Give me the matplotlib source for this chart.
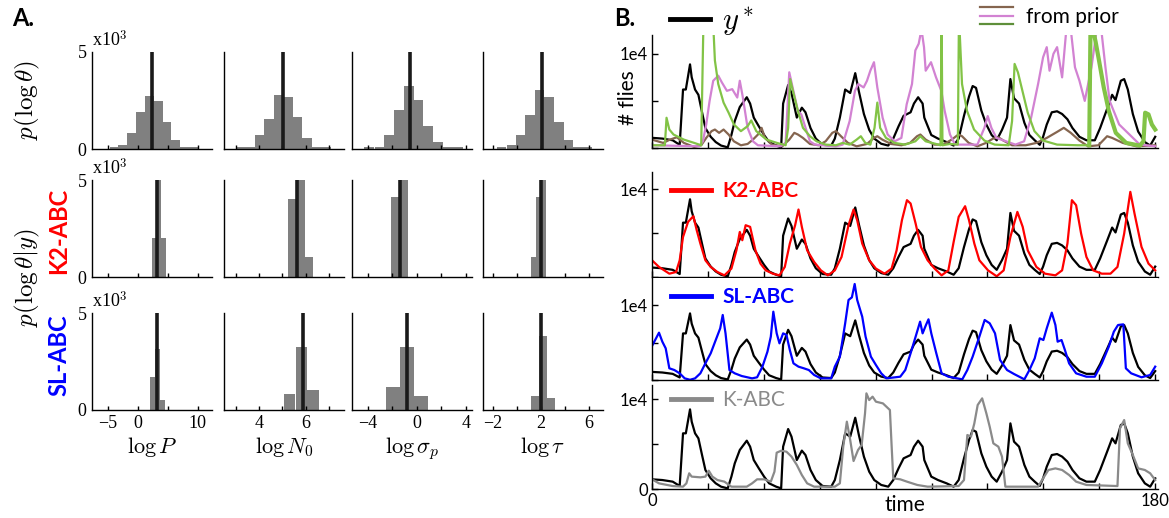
import matplotlib
matplotlib.use("Agg")
import matplotlib.pyplot as plt
from matplotlib.legend_handler import HandlerBase
from matplotlib.lines import Line2D

W, H = 1169, 518

plt.rcParams["font.family"] = ["Lato", "DejaVu Sans"]
plt.rcParams["mathtext.fontset"] = "cm"
plt.rcParams["axes.linewidth"] = 1.0

# ---------------- panel A: histograms of log parameters ----------------
param_names = [r"$\log P$", r"$\log N_0$", r"$\log \sigma_p$", r"$\log \tau$"]

prior_centers = [
    [-4.0, -2.6, -1.05, 0.47, 1.95, 3.4, 4.85, 6.3, 7.8, 9.3],
    [3.22, 3.62, 4.03, 4.43, 4.84, 5.25, 5.65, 6.06, 6.47, 6.87],
    [-3.9, -3.05, -2.26, -1.47, -0.67, 0.13, 0.93, 1.73, 2.53, 3.33],
    [-1.25, -0.42, 0.35, 1.12, 1.92, 2.72, 3.52, 4.31, 5.1, 5.9],
]
prior_counts = [
    [100, 200, 820, 1920, 2730, 2500, 1400, 470, 100, 100],
    [100, 100, 700, 1570, 2760, 2660, 1660, 580, 100, 100],
    [100, 100, 720, 2030, 3230, 2530, 1190, 350, 100, 100],
    [100, 200, 720, 1770, 3020, 2670, 1400, 470, 100, 100],
]
prior_binwidth = [1.46, 0.405, 0.8, 0.79]
prior_mark = [2.33, 5.04, -0.6, 2.08]

k2_centers = [[2.68, 3.49, 4.29], [5.43, 5.79, 6.15], [-1.77, -1.05], [1.37, 1.79, 2.22]]
k2_counts = [[2000, 5050, 2000], [4030, 5000, 1040], [4110, 5000], [1040, 4110, 5000]]
k2_binwidth = [0.8, 0.36, 0.72, 0.42]
k2_mark = [3.12, 5.65, -1.34, 2.0]

sl_centers = [[2.37, 3.22, 4.07], [5.31, 5.82, 6.31], [-1.93, -0.79, 0.34], [1.55, 2.2, 2.85]]
sl_counts = [[1680, 3130, 500], [840, 3250, 1050], [1190, 3250, 700], [700, 3800, 600]]
sl_binwidth = [0.85, 0.5, 1.13, 0.65]
sl_mark = [3.12, 5.87, -0.82, 2.0]

param_xlim = [(-7.7, 12.4), (2.5, 7.65), (-5.3, 4.5), (-2.8, 7.2)]
param_ticks = [[-5, 0, 5, 10], [3, 4, 5, 6, 7], [-4, -2, 0, 2, 4], [-2, 0, 2, 4, 6]]
param_ticklabels = [
    ["\u22125", "0", "", "10"],
    ["", "4", "", "6", ""],
    ["\u22124", "", "0", "", "4"],
    ["\u22122", "", "2", "", "6"],
]

# ---------------- panel B: time series (# flies) ----------------
ystar_t = [0, 3.7, 7.4, 9.9, 11.1, 12.1, 13.6, 14.2, 15.4, 16.6, 17.9, 19.1, 21.0, 22.8, 24.7,
           27.1, 28.4, 29.6, 31.4, 33.9, 35.1, 36.4, 38.2, 40.1, 41.9, 44.4, 46.2, 46.9, 48.7,
           49.9, 51.8, 53.6, 54.9, 56.7, 58.6, 61.0, 64.1, 65.4, 67.2, 69.1, 70.9, 72.7, 74.0,
           75.8, 77.7, 79.5, 82.0, 84.5, 86.3, 88.2, 90.0, 92.5, 93.7, 95.2, 96.8, 97.4, 99.9,
           102.3, 105.4, 107.9, 109.7, 111.6, 113.4, 114.7, 115.9, 117.8, 119.6, 121.5, 123.3,
           125.2, 127.0, 128.2, 129.5, 131.3, 133.2, 135.0, 136.9, 138.7, 139.9, 141.2, 143.0,
           144.9, 146.7, 148.6, 150.4, 152.9, 155.4, 158.4, 160.3, 162.8, 164.6, 165.8, 167.7,
           168.9, 170.2, 172.0, 173.9, 176.3, 178.2, 180.0]
ystar_v = [1080, 1000, 820, 340, 6210, 6210, 8880, 7510, 6210, 5650, 3790, 2120, 1190, 630, 260,
           70, 1380, 2860, 4350, 5390, 4720, 3230, 2310, 1380, 630, 260, 70, 4720, 6690,
           5840, 3230, 4280, 3790, 2120, 1000, 340, 260, 1000, 3230, 6210, 5840, 7950, 6020,
           3610, 1930, 1000, 450, 260, 1000, 2310, 3420, 3790, 4720, 5390, 4720, 3230, 1380,
           1000, 630, 260, 1000, 3420, 5460, 6580, 6390, 3980, 2490, 1380, 820,
           1930, 3230, 7320, 5280, 4720, 2680, 1380, 820, 340, 1190, 2490, 3790,
           3900, 3610, 3050, 2120, 1190, 820, 820, 2120, 4160, 5650, 5090, 7140,
           7320, 6210, 3610, 1750, 630, 260, 1190]

k2_t = [0, 2.5, 6.2, 8.6, 9.9, 11.1, 12.9, 14.8, 16.0, 17.3, 19.1, 21.0, 23.4, 25.9, 28.4, 30.2,
        31.4, 32.3, 33.5, 35.1, 37.0, 38.8, 40.7, 43.2, 45.6, 47.5, 49.3, 51.2, 52.4, 53.6, 55.5,
        58.0, 60.4, 62.9, 65.4, 67.8, 70.3, 72.1, 73.4, 75.2, 77.7, 80.1, 83.2, 85.7, 87.5, 89.4,
        91.2, 92.5, 94.3, 96.2, 98.6, 101.1, 103.6, 106.0, 107.9, 109.7, 112.0, 113.4, 115.3,
        117.1, 120.2, 123.3, 125.8, 128.2, 130.7, 132.6, 134.4, 137.5, 140.6, 144.3, 146.7,
        148.6, 150.2, 151.7, 153.5, 155.4, 157.8, 160.9, 164.0, 166.5, 168.9, 171.1, 172.6,
        175.1, 177.6, 180.0]
k2_v = [1910, 1150, 380, 570, 1910, 4580, 6300, 6950, 5340, 3820, 1910, 1150, 570, 190, 960, 3050,
        5150, 4200, 5920, 5730, 3050, 1530, 760, 380, 190, 1150, 3820, 5920, 7710, 5730, 3050,
        1720, 760, 190, 760, 2290, 5920, 7710, 6490, 3820, 1910, 960, 380, 960, 3050, 6490,
        8780, 8400, 6110, 3440, 1910, 960, 190, 760, 4010, 6870, 8090, 6490, 3820,
        1910, 760, 80, 760, 4580, 7440, 5730, 3050, 1150, 380, 190, 760,
        3820, 8780, 8210, 4960, 2290, 760, 380, 380, 1150, 4960, 9730, 7250,
        3440, 1530, 760]

sl_t = [0, 2.5, 3.7, 4.9, 6.2, 8.0, 9.9, 11.7, 13.6, 15.4, 17.3, 19.1, 21.0, 22.8, 24.4, 25.3,
        26.3, 27.7, 29.6, 32.1, 35.8, 37.6, 39.5, 41.3, 42.5, 43.4, 44.6, 45.6, 46.9, 48.1, 49.3,
        50.6, 52.4, 54.3, 56.1, 58.0, 60.4, 64.1, 65.4, 67.2, 69.1, 70.3, 71.5, 72.5, 73.4, 75.2,
        76.4, 78.3, 80.1, 82.0, 83.8, 88.8, 90.6, 92.5, 94.3, 95.9, 96.8, 98.0, 98.9, 99.9, 101.7,
        103.6, 106.0, 111.0, 112.8, 114.7, 117.1, 119.0, 120.8, 122.7, 124.5, 127.0, 129.5,
        133.2, 135.0, 136.9, 138.7, 140.0, 141.2, 143.0, 144.3, 145.1, 146.5, 147.7, 149.2,
        151.7, 155.4, 158.4, 160.9, 163.4, 165.2, 166.7, 168.6, 169.5, 171.4, 175.1, 178.2, 180.0]
sl_v = [4530, 6310, 5110, 4220, 1560, 1330, 890, 220, 30, 220, 890, 2220, 3560, 5330, 6890, 8670,
        6220, 1330, 890, 530, 220, 360, 1780, 3780, 5780, 9110, 6220, 4890, 6220, 6000, 4000,
        2220, 1780, 1560, 1330, 670, 220, 220, 1780, 3110, 7560, 10670, 11020, 12800, 10670, 8440,
        5780, 3110, 2000, 890, 220, 440, 1330, 3560, 5780, 7780, 6220, 7330, 8090, 6220, 3560,
        890, 440, 90, 1330, 3110, 5780, 8000, 7560, 6220, 2670, 1330, 800,
        90, 1330, 2890, 5560, 5330, 6890, 8980, 7330, 5110, 5330, 4000, 2220,
        890, 440, 440, 2220, 4440, 6440, 7330, 7420, 1560, 890, 360, 670, 1780]

kabc_t = [0, 2.5, 7.4, 11.1, 12.3, 13.3, 14.2, 17.3, 19.1, 20.3, 21.6, 23.4, 25.9, 28.4, 33.9,
          35.8, 37.6, 40.1, 42.5, 43.8, 44.6, 46.2, 48.1, 49.9, 51.8, 53.6, 55.5, 58.0, 65.4,
          67.2, 68.4, 69.7, 70.9, 72.1, 73.7, 75.0, 76.2, 76.7, 77.7, 78.9, 80.1, 82.6, 85.1,
          85.7, 86.3, 88.8, 91.2, 94.9, 98.6, 109.7, 111.6, 112.8, 114.1, 115.3, 116.5, 118.1,
          119.6, 120.8, 122.1, 123.9, 125.2, 126.4, 138.1, 139.9, 141.8, 144.3, 146.7, 149.2,
          151.7, 155.4, 166.5, 167.4, 168.9, 170.2, 172.0, 173.9, 176.3, 178.2, 180.0]
kabc_v = [1080, 630, 330, 260, 630, 1750, 1380, 1300, 1380, 2040, 1380, 1000, 820, 260, 260,
          630, 1080, 1080, 820, 1930, 4050, 4270, 4160, 3610, 2680, 1560, 630, 260, 260,
          630, 4720, 7510, 5460, 3120, 4350, 4910, 8440, 10670, 9920, 10300, 9740, 9550, 8810,
          4910, 1190, 1080, 820, 450, 260, 330, 1000, 6020, 5840, 7320, 9370, 10110,
          8440, 6950, 5090, 4720, 3610, 260, 260, 1190, 2120, 2300, 2120, 1560,
          820, 450, 330, 6770, 7690, 5090, 3790, 2300, 2120, 1750, 1000]

prior_brown_t = [0, 4.0, 6.4, 8.9, 11.4, 15.1, 17.6, 19.4, 21.3, 22.5, 24.0, 25.6, 27.4, 29.3,
                 31.8, 34.2, 36.1, 37.9, 39.2, 40.4, 42.9, 46.6, 49.1, 50.9, 52.2, 54.0, 56.5,
                 59.6, 62.1, 64.5, 65.8, 67.6, 70.1, 73.2, 76.9, 79.4, 80.6, 82.4, 85.5, 89.2,
                 92.3, 94.8, 96.0, 97.9, 101.0, 104.1, 107.2, 109.6, 110.9, 113.3, 116.4, 119.5,
                 122.0, 123.9, 125.7, 128.8, 133.7, 137.5, 141.2, 144.9, 147.3, 149.8, 152.9,
                 156.0, 159.7, 162.8, 164.6, 168.4, 173.3, 180.0]
prior_brown_v = [890, 540, 890, 1140, 540, 110, 290, 1070, 1790, 1960, 1610, 1960, 1430, 710,
                 290, 430, 890, 1430, 2140, 1070, 360, 180, 890, 1610, 1430, 1070, 430,
                 290, 710, 1610, 1790, 1250, 540, 180, 430, 1070, 1250, 890, 430, 290,
                 540, 1250, 1430, 890, 360, 360, 890, 1430, 1250, 540, 180, 540,
                 1000, 1140, 790, 290, 290, 540, 1070, 1710, 2140, 1610, 790,
                 180, 290, 1250, 1070, 540, 180, 290]

prior_pink_t = [0, 16.9, 18.2, 19.4, 20.6, 21.9, 23.7, 25.0, 26.8, 28.7, 30.5, 31.4, 32.4, 34.2,
                36.1, 37.9, 46.0, 47.8, 49.1, 50.3, 52.2, 53.4, 55.3, 56.5, 58.3, 65.8, 68.2,
                70.7, 72.6, 73.8, 75.7, 76.9, 78.1, 79.4, 80.6, 82.5, 84.3, 86.8, 89.2, 91.1,
                93.0, 94.2, 95.4, 96.4, 97.3, 97.9, 99.8, 101.6, 103.5, 104.7, 106.6, 108.4,
                116.4, 118.9, 120.1, 121.4, 123.2, 130.0, 133.1, 135.6, 138.1, 139.9, 141.2,
                142.2, 143.6, 144.9, 146.7, 148.3, 149.8, 151.3, 152.9, 154.8, 157.2, 159.1,
                160.7, 162.2, 163.7, 167.1, 170.8, 174.5, 180.0]
prior_pink_v = [290, 180, 710, 2500, 5000, 7140, 7680, 6960, 6070, 6250, 5360, 7140, 5540, 2140,
                710, 290, 180, 540, 8040, 6430, 3930, 3570, 1790, 710, 360, 180, 360,
                2860, 6070, 6790, 6430, 7140, 8210, 9110, 6430, 3210, 1430, 710, 1070, 4640,
                6790, 10360, 11070, 12600, 10710, 8210, 9110, 7500, 6070, 3930, 1430, 360,
                360, 2140, 3390, 2140, 1070, 360, 710, 3210, 6790, 9640, 10710,
                8210, 10000, 10710, 7500, 12900, 12600, 8570, 7140, 5000, 8570, 12600,
                12600, 8570, 5000, 2500, 1430, 360, 180]

prior_green_t = [0, 4.6, 5.2, 6.2, 7.7, 11.4, 15.1, 17.6, 18.5, 22.0, 22.5, 23.7, 25.6, 27.4,
                 29.3, 31.8, 34.2, 35.5, 37.3, 41.0, 44.7, 47.8, 48.7, 49.4, 50.7, 52.2, 54.0,
                 56.5, 58.9, 62.1, 65.8, 68.2, 70.7, 73.2, 74.7, 76.3, 78.1, 79.6, 80.6, 81.6,
                 83.7, 86.8, 90.5, 94.2, 96.0, 97.9, 101.6, 103.2, 103.6, 103.9, 106.6, 109.4,
                 109.8, 110.9, 112.7, 115.2, 118.9, 122.6, 127.6, 128.8, 129.7, 130.9, 132.5,
                 134.4, 136.8, 139.9, 144.9, 152.3, 156.4, 156.9, 157.8, 158.7, 159.9, 161.6,
                 163.4, 165.9, 169.6, 174.5, 175.8, 176.4, 177.6, 178.8, 180.0]
prior_green_v = [290, 290, 3210, 1960, 1430, 890, 540, 290, 15000, 12500, 9290, 6790, 4820, 3750,
                 2500, 1790, 2320, 2930, 1790, 890, 540, 290, 2140, 7320, 5710, 3930, 2140,
                 1250, 710, 360, 290, 540, 360, 890, 1250, 540, 360, 2140, 4820, 2140,
                 1070, 540, 360, 710, 1250, 710, 430, 290, 14000, 290, 430, 360,
                 14000, 6790, 3930, 1960, 790, 360, 290, 2860, 8930, 8030, 6070,
                 3750, 1790, 790, 360, 290, 290, 14000, 12500, 11250, 9290, 6430,
                 3930, 1610, 540, 250, 710, 3750, 3570, 2500, 1960]
green_thick_from = 68  # last stretch of the green prior run is drawn heavier

c_prior_brown = "#85654f"
c_prior_pink = "#d282d2"
c_prior_green = "#82c346"
c_k2 = "#ff0000"
c_sl = "#0000ff"
c_kabc = "#8a8a8a"


def px_rect(left, top, right, bottom):
    return [left / W, 1 - bottom / H, (right - left) / W, (bottom - top) / H]


class StackedLines(HandlerBase):
    def create_artists(self, legend, orig_handle, xdescent, ydescent, width, height, fontsize, trans):
        out = []
        for i, h in enumerate(orig_handle):
            y = height / 2 + (1 - i) * 6.0
            ln = Line2D([0, width], [y, y], color=h.get_color(), lw=h.get_linewidth(), transform=trans)
            out.append(ln)
        return out


fig = plt.figure(figsize=(W / 100, H / 100), dpi=100)

col_left = [92, 224, 352, 483]
col_w = 120
row_top = [52, 180, 313]
row_h = 97
rows = [
    (prior_centers, prior_counts, prior_binwidth, prior_mark),
    (k2_centers, k2_counts, k2_binwidth, k2_mark),
    (sl_centers, sl_counts, sl_binwidth, sl_mark),
]
for r, (centers, counts, widths, marks) in enumerate(rows):
    for c in range(4):
        ax = fig.add_axes(px_rect(col_left[c], row_top[r], col_left[c] + col_w, row_top[r] + row_h))
        ax.bar(centers[c], counts[c], width=widths[c], color="#808080", linewidth=0)
        ax.axvline(marks[c], color="#1a1a1a", lw=2.6)
        ax.set_xlim(*param_xlim[c])
        ax.set_ylim(0, 5000)
        ax.spines[["top", "right"]].set_visible(False)
        ax.set_xticks(param_ticks[c])
        ax.tick_params(axis="x", direction="in", length=3, width=1)
        ax.tick_params(axis="y", length=0)
        ax.set_yticks([0, 5000])
        if r == 2:
            ax.set_xticklabels(param_ticklabels[c], family="Liberation Serif", fontsize=13)
            ax.set_xlabel(param_names[c], fontsize=16, labelpad=2)
        else:
            ax.set_xticklabels([])
        if c == 0:
            ax.set_yticklabels(["0", "5"], family="Liberation Serif", fontsize=13)
            ax.tick_params(axis="y", pad=4)
            ax.text(0.0, 1.02, r"x10$^3$", transform=ax.transAxes, family="Liberation Serif",
                    fontsize=13, ha="left", va="bottom")
        else:
            ax.set_yticklabels([])

fig.text(12 / W, 1 - 18 / H, "A.", fontsize=17, fontweight="bold", va="center", ha="left")
fig.text(614 / W, 1 - 18 / H, "B.", fontsize=17, fontweight="bold", va="center", ha="left")
fig.text(27 / W, 1 - 100 / H, r"$p(\log\theta)$", fontsize=18, rotation=90, ha="center", va="center")
fig.text(27 / W, 1 - 278 / H, r"$p(\log\theta|y)$", fontsize=18, rotation=90, ha="center", va="center")
fig.text(59 / W, 1 - 231 / H, "K2-ABC", fontsize=17, fontweight="bold", color=c_k2,
         rotation=90, ha="center", va="center")
fig.text(59 / W, 1 - 355 / H, "SL-ABC", fontsize=17, fontweight="bold", color=c_sl,
         rotation=90, ha="center", va="center")

# ---------------- panel B ----------------
b_rows = [(35, 148), (172, 277), (278, 380), (385, 489)]
b_ymax = [12000, 12000, 13600, 11600]
b_series = [
    [(prior_brown_t, prior_brown_v, c_prior_brown),
     (prior_pink_t, prior_pink_v, c_prior_pink),
     (prior_green_t, prior_green_v, c_prior_green)],
    [(k2_t, k2_v, c_k2)],
    [(sl_t, sl_v, c_sl)],
    [(kabc_t, kabc_v, c_kabc)],
]
for i, (top, bottom) in enumerate(b_rows):
    ax = fig.add_axes(px_rect(652, top, 1158, bottom))
    ax.plot(ystar_t, ystar_v, color="black", lw=1.6)
    for t, v, col in b_series[i]:
        ax.plot(t, v, color=col, lw=1.6)
    if i == 0:
        ax.plot(prior_green_t[green_thick_from:], prior_green_v[green_thick_from:],
                color=c_prior_green, lw=3.0)
    ax.set_xlim(0, 181)
    ax.set_ylim(0, b_ymax[i])
    ax.spines[["top", "right"]].set_visible(False)
    ax.set_xticks(range(0, 181, 20))
    ax.set_yticks([0, 5000, 10000])
    ax.tick_params(direction="in", length=4, width=1, labelsize=12, pad=3)
    if i == 3:
        ax.set_yticklabels(["0", "", "1e4"])
        ax.set_xticklabels(["0"] + [""] * 8 + ["180"])
        ax.tick_params(axis="x", pad=3)
    else:
        ax.set_yticklabels(["", "", "1e4"])
        ax.set_xticklabels([])

fig.text(905 / W, 1 - 505 / H, "time", fontsize=15, ha="center", va="center")
fig.text(628 / W, 1 - 98 / H, "# flies", fontsize=15, rotation=90, ha="center", va="center")

fig.legend([Line2D([], [], color="black", lw=3.5)], [r"$y^*$"], loc="center left",
           bbox_to_anchor=(670 / W, 1 - 22 / H), frameon=False, fontsize=22,
           handlelength=1.3, handletextpad=0.4, borderpad=0, borderaxespad=0)

prior_handle = (Line2D([], [], color=c_prior_brown, lw=1.6),
                Line2D([], [], color=c_prior_pink, lw=1.6),
                Line2D([], [], color="#5e8f3a", lw=1.6))
fig.legend([prior_handle], ["from prior"], handler_map={tuple: StackedLines()}, loc="center left",
           bbox_to_anchor=(980 / W, 1 - 17 / H), frameon=False, fontsize=15,
           handlelength=1.6, handletextpad=0.6, borderpad=0, borderaxespad=0)

method_legends = [("K2-ABC", c_k2, "bold", 191), ("SL-ABC", c_sl, "bold", 297), ("K-ABC", c_kabc, "normal", 400)]
for (name, col, weight, ypx) in method_legends:
    fig.legend([Line2D([], [], color=col, lw=3.5)], [name], loc="center left",
               bbox_to_anchor=(671 / W, 1 - ypx / H), frameon=False,
               prop={"size": 15, "weight": weight}, labelcolor=col,
               handlelength=1.9, handletextpad=0.55, borderpad=0, borderaxespad=0)

fig.savefig("out.png", dpi=100)
